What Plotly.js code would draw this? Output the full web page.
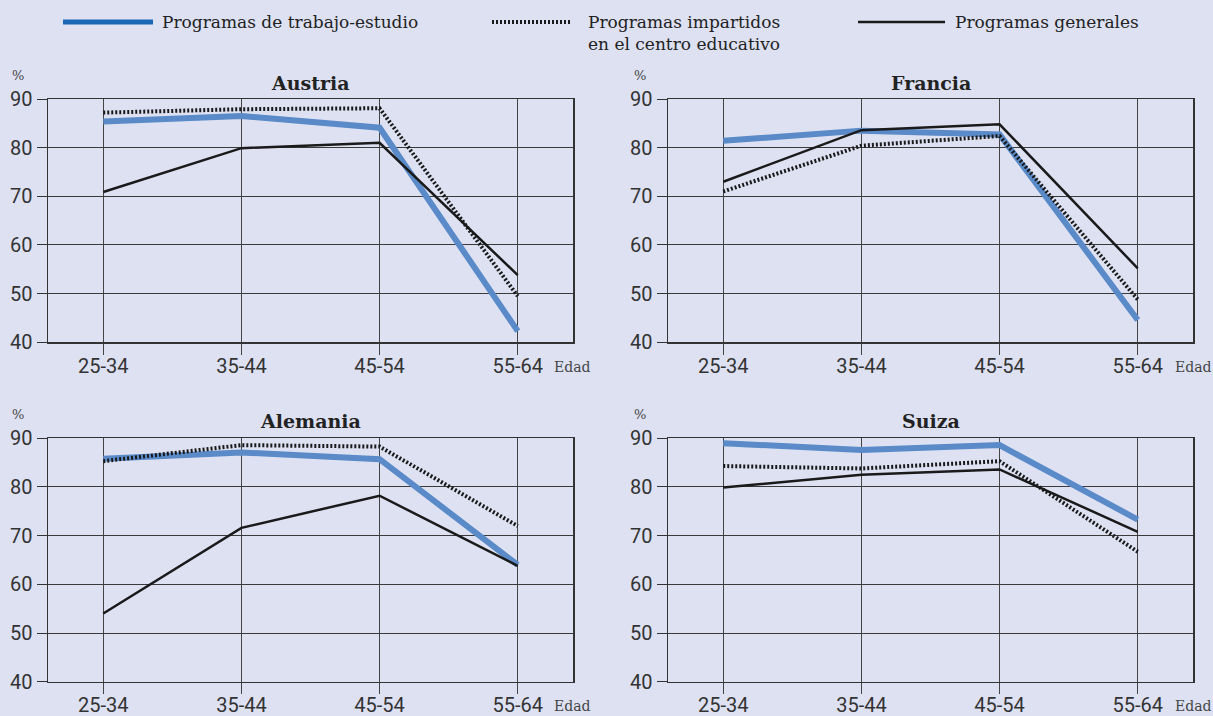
<!DOCTYPE html>
<html>
<head>
<meta charset="utf-8">
<script src="https://cdn.plot.ly/plotly-3.0.1.min.js"></script>
<style>
html,body{margin:0;padding:0;background:#dde1f2;}
#chart{width:1213px;height:716px;}
</style>
</head>
<body>
<div id="chart"></div>
<script>
// ---- data ----
const ageGroups = ["25-34", "35-44", "45-54", "55-64"];
const countries = ["Austria", "Francia", "Alemania", "Suiza"];
const seriesNames = ["Programas de trabajo-estudio", "Programas impartidos en el centro educativo", "Programas generales"];

// Programas de trabajo-estudio
const austriaWork   = [85.4, 86.5, 84.1, 42.3];
const franciaWork   = [81.4, 83.5, 82.7, 44.6];
const alemaniaWork  = [85.8, 87.1, 85.7, 64.0];
const suizaWork     = [89.0, 87.6, 88.6, 73.3];

// Programas impartidos en el centro educativo
const austriaSchool  = [87.2, 87.9, 88.1, 49.5];
const franciaSchool  = [71.0, 80.4, 82.4, 48.8];
const alemaniaSchool = [85.3, 88.6, 88.3, 72.0];
const suizaSchool    = [84.3, 83.8, 85.3, 66.7];

// Programas generales
const austriaGeneral  = [70.9, 79.9, 81.0, 53.8];
const franciaGeneral  = [73.0, 83.6, 84.8, 55.2];
const alemaniaGeneral = [54.0, 71.6, 78.2, 63.8];
const suizaGeneral    = [79.9, 82.5, 83.6, 70.8];

const yTicks = [40, 50, 60, 70, 80, 90];

// ---- styling ----
const BG = "#dde1f2";
const serif = "DejaVu Serif, Liberation Serif, serif";
const sans = "Roboto, Liberation Sans, sans-serif";
const lineStyles = [
  {color: "#5a8ac8", width: 6, dash: "solid"},
  {color: "#1a1a1a", width: 4, dash: "2px,2px"},
  {color: "#1a1a1a", width: 2.5, dash: "solid"}
];

const panels = [
  {name: countries[0], data: [austriaWork, austriaSchool, austriaGeneral], xa: "x", ya: "y"},
  {name: countries[1], data: [franciaWork, franciaSchool, franciaGeneral], xa: "x2", ya: "y2"},
  {name: countries[2], data: [alemaniaWork, alemaniaSchool, alemaniaGeneral], xa: "x3", ya: "y3"},
  {name: countries[3], data: [suizaWork, suizaSchool, suizaGeneral], xa: "x4", ya: "y4"}
];

const traces = [];
panels.forEach(p => {
  p.data.forEach((vals, i) => {
    traces.push({
      type: "scatter", mode: "lines",
      x: ageGroups, y: vals,
      xaxis: p.xa, yaxis: p.ya,
      name: seriesNames[i],
      showlegend: false,
      line: lineStyles[i],
      hoverinfo: "x+y"
    });
  });
});

const W = 1213, H = 716;
const colDom = [[48 / W, 573 / W], [668 / W, 1193 / W]];
const rowDom = [[1 - 342.3 / H, 1 - 99 / H], [1 - 681.7 / H, 1 - 438.3 / H]];

function xAxis(dom, anchor) {
  return {
    domain: dom, anchor: anchor,
    type: "category", categoryarray: ageGroups, categoryorder: "array",
    range: [-0.4, 3.4],
    showgrid: true, gridcolor: "#444", gridwidth: 1,
    ticks: "outside", ticklen: 11, tickcolor: "#444", tickwidth: 1,
    ticklabelstandoff: -6,
    showline: true, mirror: true, linecolor: "#333", linewidth: 1.5,
    tickfont: {family: sans, size: 20, color: "#333"},
    zeroline: false, fixedrange: true
  };
}
function yAxis(dom, anchor) {
  return {
    domain: dom, anchor: anchor,
    range: [40, 90], tickvals: yTicks,
    showgrid: true, gridcolor: "#3a3a3a", gridwidth: 1,
    ticks: "outside", ticklen: 10, tickcolor: "#333", tickwidth: 1,
    showline: true, mirror: true, linecolor: "#333", linewidth: 1.5,
    tickfont: {family: sans, size: 20, color: "#333"},
    zeroline: false, fixedrange: true
  };
}

const layout = {
  width: W, height: H,
  margin: {l: 0, r: 0, t: 0, b: 0},
  paper_bgcolor: BG, plot_bgcolor: BG,
  showlegend: false,
  xaxis: xAxis(colDom[0], "y"),
  yaxis: yAxis(rowDom[0], "x"),
  xaxis2: xAxis(colDom[1], "y2"),
  yaxis2: yAxis(rowDom[0], "x2"),
  xaxis3: xAxis(colDom[0], "y3"),
  yaxis3: yAxis(rowDom[1], "x3"),
  xaxis4: xAxis(colDom[1], "y4"),
  yaxis4: yAxis(rowDom[1], "x4"),
  annotations: [],
  shapes: []
};

// panel titles, % and Edad labels
const titleY = [83, 421];
const pctY = [75, 414];
const edadY = [367, 706];
const pctX = [18, 640];
const edadX = [552, 1173];
panels.forEach((p, k) => {
  const c = k % 2, r = Math.floor(k / 2);
  layout.annotations.push({
    text: "<b>" + p.name + "</b>", xref: "paper", yref: "paper",
    x: (colDom[c][0] + colDom[c][1]) / 2, y: 1 - titleY[r] / H,
    xanchor: "center", yanchor: "middle", showarrow: false,
    font: {family: serif, size: 19, color: "#222"}
  });
  layout.annotations.push({
    text: "%", xref: "paper", yref: "paper",
    x: pctX[c] / W, y: 1 - pctY[r] / H,
    xanchor: "center", yanchor: "middle", showarrow: false,
    font: {family: serif, size: 13, color: "#444"}
  });
  layout.annotations.push({
    text: "Edad", xref: "paper", yref: "paper",
    x: edadX[c] / W, y: 1 - edadY[r] / H,
    xanchor: "left", yanchor: "middle", showarrow: false,
    font: {family: serif, size: 14, color: "#444"}
  });
});

// legend (manual)
const legY = 1 - 22 / H;
const legItems = [
  {x0: 63, x1: 153, tx: 160, color: "#1a68b5", width: 5, dash: "solid", text: seriesNames[0]},
  {x0: 492, x1: 572, tx: 586, color: "#1a1a1a", width: 4, dash: "2px,2px", text: "Programas impartidos<br>en el centro educativo"},
  {x0: 858, x1: 945, tx: 953, color: "#1a1a1a", width: 2.5, dash: "solid", text: seriesNames[2]}
];
legItems.forEach(it => {
  layout.shapes.push({
    type: "line", xref: "paper", yref: "paper",
    x0: it.x0 / W, x1: it.x1 / W, y0: legY, y1: legY,
    line: {color: it.color, width: it.width, dash: it.dash}
  });
  layout.annotations.push({
    text: it.text, xref: "paper", yref: "paper",
    x: it.tx / W, y: 1 - 10 / H, xanchor: "left", yanchor: "top",
    align: "left", showarrow: false,
    font: {family: serif, size: 17, color: "#222"}
  });
});

Plotly.newPlot("chart", traces, layout, {displayModeBar: false, staticPlot: true});
</script>
</body>
</html>
